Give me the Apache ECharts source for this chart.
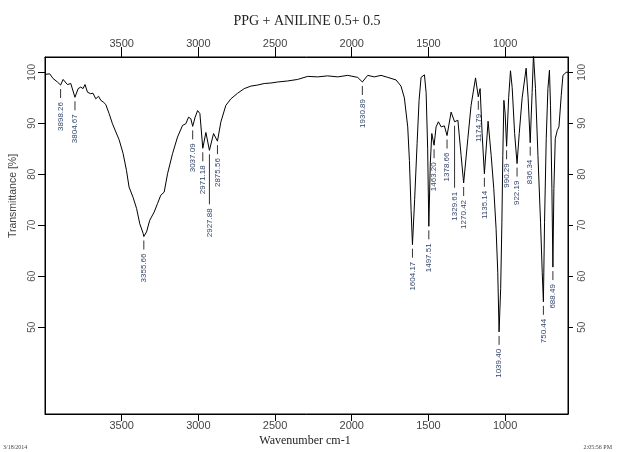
<!DOCTYPE html>
<html>
<head>
<meta charset="utf-8">
<script src="https://cdn.jsdelivr.net/npm/echarts@6/dist/echarts.min.js"></script>
<style>
html,body{margin:0;padding:0;background:#fff;}
#chart{width:624px;height:452px;}
</style>
</head>
<body>
<div id="chart"></div>
<script>
// ---- data ----
const wavenumber = [3998,3969,3948,3919,3898.26,3882,3854,3832,3804.67,3784,3767,3752,3739,3723,3702,3687,3669,3651,3636,3621,3604,3582,3560,3538,3517,3491,3469,3452,3426,3403,3382,3360,3355.66,3338,3317,3288,3266,3245,3223,3201,3168,3136,3103,3082,3064,3049,3037.09,3021,3005,2990,2971.18,2951,2927.88,2901,2875.56,2853,2821,2788,2744,2701,2657,2614,2571,2527,2483,2418,2353,2287,2222,2157,2092,2026,1961,1930.89,1896,1853,1809,1765,1711,1679,1657,1635,1624,1613,1604.17,1590,1574,1561,1548,1537,1526,1515,1505,1497.51,1488,1478,1463.20,1450,1435,1417,1396,1378.66,1352,1329.61,1308,1287,1270.42,1243,1222,1193,1174.79,1163,1150,1135.14,1111,1091,1074,1059,1048,1039.40,1029,1021,1015,1008,1000,990.29,977,965,954,938,922.19,908,889,863,850,836.34,824,815,802,786,769,758,750.44,743,732,721,711,704,695,688.49,682,673,660,649,634,623,602,590];
const transmittance = [99.6,99.7,98.8,98.1,97.5,98.6,97.6,97.8,95.1,96.8,97.1,96.8,97.6,96.1,95.8,95.9,94.8,95.3,94.5,94.2,93.7,91.9,89.9,88.3,86.8,84.1,80.8,77.5,75.5,73.3,70.3,68.4,67.8,68.7,71.0,72.6,74.3,75.9,76.5,80.1,84.1,87.3,89.6,89.9,91.2,90.9,89.4,91.2,92.5,91.9,85.1,88.2,84.7,88.0,86.5,90.3,93.5,94.8,95.9,96.8,97.3,97.5,97.8,97.9,98.1,98.3,98.6,99.2,99.1,99.3,99.1,99.4,99.0,98.1,99.4,99.1,99.4,99.0,98.5,97.3,95.0,89.3,82.7,72.9,66.2,75,86,94.5,99.0,99.3,99.5,96,85,69.8,82,88,85.7,89.3,90.3,89.3,89.5,87.6,92.2,90.3,90.6,83.7,78.3,87,93.5,98.9,95.2,96.8,88,80.1,90.4,83.7,77.2,69.4,60.8,49.1,57.6,70.6,83.7,94.5,92,85.5,95,100.3,97,88,82.1,88,95,100.8,95,86.2,96,103.5,96.8,83.7,70.6,60.8,55.0,70.6,87,96.8,100.4,93.5,77.2,61.8,77.2,87,88.6,89.3,95.5,99.4,100.0,100.0];

const peakWavenumbers = [3898.26,3804.67,3355.66,3037.09,2971.18,2927.88,2875.56,1930.89,1604.17,1497.51,1463.20,1378.66,1329.61,1270.42,1174.79,1135.14,1039.40,990.29,922.19,836.34,750.44,688.49];
const peakTransmittance = [97.5,95.1,67.8,89.4,85.1,84.7,86.5,98.1,66.2,69.8,85.7,87.6,90.3,78.3,95.2,80.1,49.1,85.5,82.1,86.2,55.0,61.8];
const peakLabels = ["3898.26","3804.67","3355.66","3037.09","2971.18","2927.88","2875.56","1930.89","1604.17","1497.51","1463.20","1378.66","1329.61","1270.42","1174.79","1135.14","1039.40","990.29","922.19","836.34","750.44","688.49"];

const xTicks = [3500,3000,2500,2000,1500,1000];
const yTicks = [50,60,70,80,90,100];

const titleText = "PPG + ANILINE 0.5+ 0.5";
const xName = "Wavenumber cm-1";
const yName = "Transmittance [%]";

// ---- style (not data) ----
const longLeader = {"2927.88": 50, "1329.61": 62};

const spectrum = wavenumber.map((w, i) => [w, transmittance[i]]);
const peaks = peakWavenumbers.map((w, i) => [w, peakTransmittance[i]]);

const chart = echarts.init(document.getElementById('chart'), null, {renderer: 'canvas'});
const plain = v => String(v);

const xAxisBase = {
  type: 'value', min: 590, max: 4000, inverse: true,
  axisLine: {show: true, lineStyle: {color: '#000', width: 1}},
  splitLine: {show: false}
};
const yAxisBase = {
  type: 'value', min: 33, max: 103,
  axisLine: {show: true, lineStyle: {color: '#000', width: 1}},
  splitLine: {show: false}
};

chart.setOption({
  animation: false,
  backgroundColor: '#fff',
  grid: {left: 45, right: 56, top: 57, bottom: 38, show: true, borderColor: '#000', borderWidth: 1},
  xAxis: [
    Object.assign({}, xAxisBase, {
      position: 'bottom',
      axisTick: {show: true, customValues: xTicks, length: 7, lineStyle: {color: '#000'}},
      axisLabel: {customValues: xTicks, formatter: plain, margin: 6, color: '#444', fontSize: 11, fontFamily: 'Liberation Sans'}
    }),
    Object.assign({}, xAxisBase, {
      position: 'top',
      axisTick: {show: true, customValues: xTicks, length: 10, lineStyle: {color: '#000'}},
      axisLabel: {customValues: xTicks, formatter: plain, margin: 8, color: '#444', fontSize: 11, fontFamily: 'Liberation Sans'}
    })
  ],
  yAxis: [
    Object.assign({}, yAxisBase, {
      position: 'left',
      axisTick: {show: true, customValues: yTicks, length: 7, lineStyle: {color: '#000'}},
      axisLabel: {customValues: yTicks, formatter: plain, rotate: 90, margin: 8, color: '#555', fontSize: 10, fontFamily: 'Liberation Sans'}
    }),
    Object.assign({}, yAxisBase, {
      position: 'right',
      axisTick: {show: true, customValues: yTicks, length: 5, lineStyle: {color: '#000'}},
      axisLabel: {customValues: yTicks, formatter: plain, rotate: 90, margin: 9, color: '#555', fontSize: 10, fontFamily: 'Liberation Sans'}
    })
  ],
  series: [
    {
      type: 'line', data: spectrum, xAxisIndex: 0, yAxisIndex: 0,
      showSymbol: false, symbol: 'none', clip: true,
      lineStyle: {color: '#000', width: 1}
    },
    {
      type: 'custom', data: peaks, xAxisIndex: 0, yAxisIndex: 0, clip: false,
      renderItem: function (params, api) {
        const p = api.coord([api.value(0), api.value(1)]);
        const lab = peakLabels[params.dataIndex];
        const len = longLeader[lab] || 9;
        const y0 = p[1] + 4;
        const y1 = y0 + len;
        return {
          type: 'group',
          children: [
            {type: 'line', shape: {x1: p[0], y1: y0, x2: p[0], y2: y1}, style: {stroke: '#333', lineWidth: 1}},
            {type: 'text', x: p[0], y: y1 + 4, rotation: Math.PI / 2,
             style: {text: lab, align: 'right', verticalAlign: 'middle', fill: '#34466a', fontSize: 8, fontFamily: 'Liberation Sans'}}
          ]
        };
      }
    }
  ],
  graphic: [
    {type: 'text', x: 307, y: 21, style: {text: titleText, align: 'center', verticalAlign: 'middle', fill: '#222', fontSize: 14, fontFamily: 'Liberation Serif'}},
    {type: 'text', x: 305, y: 441, style: {text: xName, align: 'center', verticalAlign: 'middle', fill: '#222', fontSize: 12, fontFamily: 'Liberation Serif'}},
    {type: 'text', x: 13, y: 196, rotation: Math.PI / 2, style: {text: yName, align: 'center', verticalAlign: 'middle', fill: '#444', fontSize: 10.5, fontFamily: 'Liberation Sans'}},
    {type: 'text', x: 3, y: 447, style: {text: '3/18/2014', align: 'left', verticalAlign: 'middle', fill: '#444', fontSize: 6, fontFamily: 'Liberation Serif'}},
    {type: 'text', x: 612, y: 447, style: {text: '2:05:56 PM', align: 'right', verticalAlign: 'middle', fill: '#444', fontSize: 6, fontFamily: 'Liberation Serif'}},
    {type: 'text', x: 3, y: 454, style: {text: 'Operator', align: 'left', verticalAlign: 'middle', fill: '#666', fontSize: 6, fontFamily: 'Liberation Serif'}},
    {type: 'text', x: 307, y: 454, style: {text: 'CHALAPATHI INSTITUTE OF PHARMACEUTICAL SCIENCES', align: 'center', verticalAlign: 'middle', fill: '#666', fontSize: 5, fontFamily: 'Liberation Serif'}},
    {type: 'text', x: 620, y: 454, style: {text: 'CENTRAL INSTRUMENTATION LAB', align: 'right', verticalAlign: 'middle', fill: '#666', fontSize: 5, fontFamily: 'Liberation Serif'}}
  ]
});
</script>
</body>
</html>
